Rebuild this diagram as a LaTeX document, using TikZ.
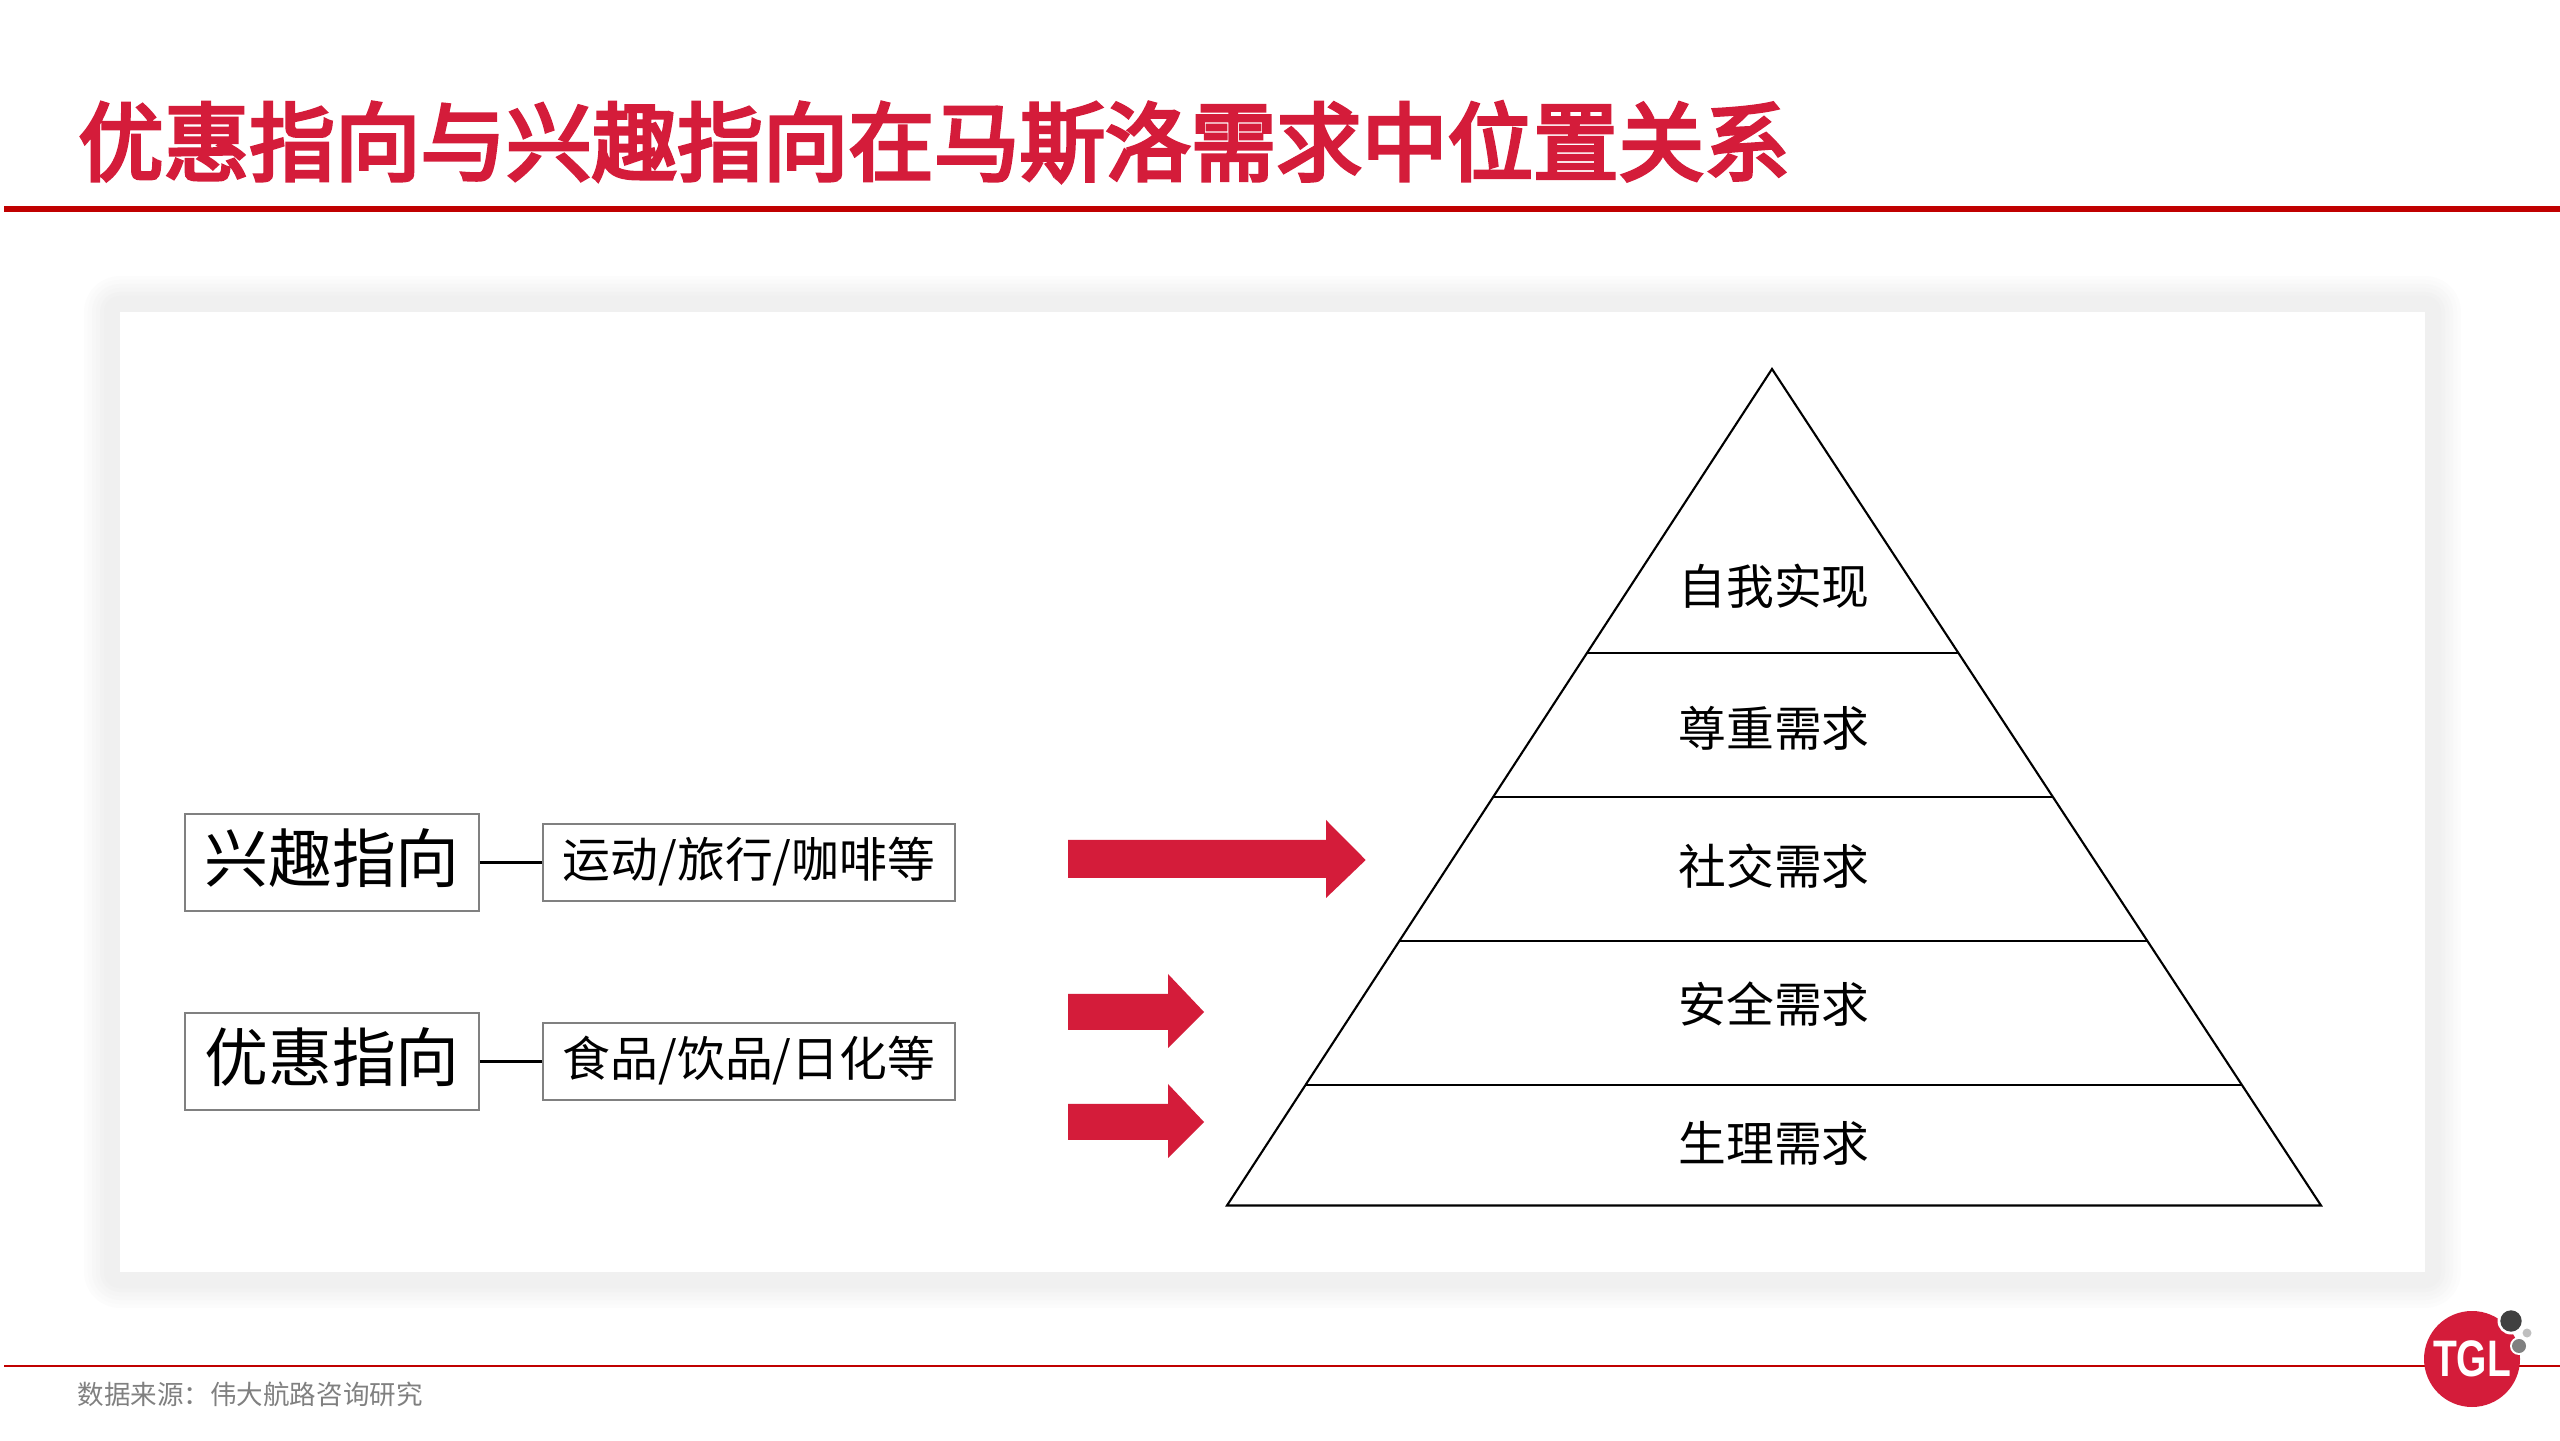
\documentclass[tikz,border=0pt]{standalone}
\usepackage{fontspec}
\usepackage{xcolor}
\usetikzlibrary{calc}
\setmainfont{Noto Sans CJK SC}
\newfontfamily\titlefont[FakeBold=4]{Noto Sans CJK SC}
\newfontfamily\logofont{Liberation Sans}
\definecolor{tglred}{HTML}{D41C3A}
\definecolor{ruled}{HTML}{C00000}
\tikzset{
    bigbox/.style={draw=black!50, line width=0.45pt, minimum width=2.94cm, minimum height=0.97cm, inner sep=0pt, text height=15pt, text depth=3.5pt, font=\fontsize{18.2pt}{20pt}\selectfont},
    smallbox/.style={draw=black!50, line width=0.45pt, minimum width=4.12cm, minimum height=0.77cm, inner sep=0pt, text height=11pt, text depth=2.6pt, font=\fontsize{13.6pt}{16pt}\selectfont},
    level/.style={inner sep=0pt, font=\fontsize{13.6pt}{16pt}\selectfont},
    thinline/.style={line width=0.6pt}
}

\begin{document}
\begin{tikzpicture}
    \useasboundingbox (0,0) rectangle (25.6,14.4);
    % heading
    \node (title) [anchor=west, inner sep=0pt, text=tglred, font=\fontsize{24.35pt}{28pt}\titlefont] at (0.775,12.98){优惠指向与兴趣指向在马斯洛需求中位置关系};
    \fill [ruled] (0.04,12.28) rectangle (25.6,12.34);
    % panel with soft edge
    \foreach \d/\c in {0.36/1, 0.32/2, 0.28/3, 0.24/4, 0.20/5, 0.16/6}
        \fill [black!\c, rounded corners=\d cm] (1.2-\d,1.68-\d) rectangle (24.25+\d,11.28+\d);
    \fill [white] (1.2,1.68) rectangle (24.25,11.28);
    % pyramid
    \coordinate (top) at (17.72,10.71);
    \coordinate (left) at (12.27,2.345);
    \coordinate (right) at (23.21,2.345);
    \draw [thinline] (top) -- (left) -- (right) -- cycle;
    \draw [thinline] ($(top)!0.3393!(left)$) -- ($(top)!0.3393!(right)$);
    \draw [thinline] ($(top)!0.5114!(left)$) -- ($(top)!0.5114!(right)$);
    \draw [thinline] ($(top)!0.6834!(left)$) -- ($(top)!0.6834!(right)$);
    \draw [thinline] ($(top)!0.8555!(left)$) -- ($(top)!0.8555!(right)$);
    \node (selfneed) [level] at (17.74,8.54){自我实现};
    \node (esteem) [level] at (17.74,7.115){尊重需求};
    \node (social) [level] at (17.74,5.735){社交需求};
    \node (safety) [level] at (17.74,4.355){安全需求};
    \node (body) [level] at (17.74,2.965){生理需求};
    % left boxes
    \node (interest) [bigbox] at (3.32,5.775){兴趣指向};
    \node (interestitem) [smallbox] at (7.49,5.775){运动/旅行/咖啡等};
    \node (discount) [bigbox] at (3.32,3.785){优惠指向};
    \node (discountitem) [smallbox] at (7.49,3.785){食品/饮品/日化等};
    \draw [thinline] (interest) -- (interestitem);
    \draw [thinline] (discount) -- (discountitem);
    % red arrows
    \fill [tglred] (10.68,6.00) -- (13.26,6.00) -- (13.26,6.20) -- (13.657,5.80) -- (13.26,5.42) -- (13.26,5.62) -- (10.68,5.62) -- cycle;
    \fill [tglred] (10.68,4.46) -- (11.68,4.46) -- (11.68,4.66) -- (12.04,4.28) -- (11.68,3.92) -- (11.68,4.10) -- (10.68,4.10) -- cycle;
    \fill [tglred] (10.68,3.36) -- (11.68,3.36) -- (11.68,3.56) -- (12.04,3.18) -- (11.68,2.82) -- (11.68,3.00) -- (10.68,3.00) -- cycle;
    % footer
    \fill [ruled] (0.04,0.73) rectangle (25.6,0.75);
    \node (source) [anchor=west, inner sep=0pt, text=black!50, font=\fontsize{7.55pt}{9pt}\selectfont] at (0.77,0.455){数据来源：伟大航路咨询研究};
    % logo
    \fill [tglred] (24.72,0.81) circle [radius=0.48];
    \fill [white] (25.11,1.19) circle [radius=0.135];
    \fill [black!75] (25.11,1.19) circle [radius=0.107];
    \fill [white] (25.19,0.94) circle [radius=0.09];
    \fill [black!50] (25.19,0.94) circle [radius=0.07];
    \fill [black!25] (25.27,1.07) circle [radius=0.045];
    \node (logo) [inner sep=0pt, text=white, xscale=0.76, font=\fontsize{14.6pt}{16pt}\logofont\bfseries] at (24.72,0.81){TGL};
\end{tikzpicture}
\end{document}
